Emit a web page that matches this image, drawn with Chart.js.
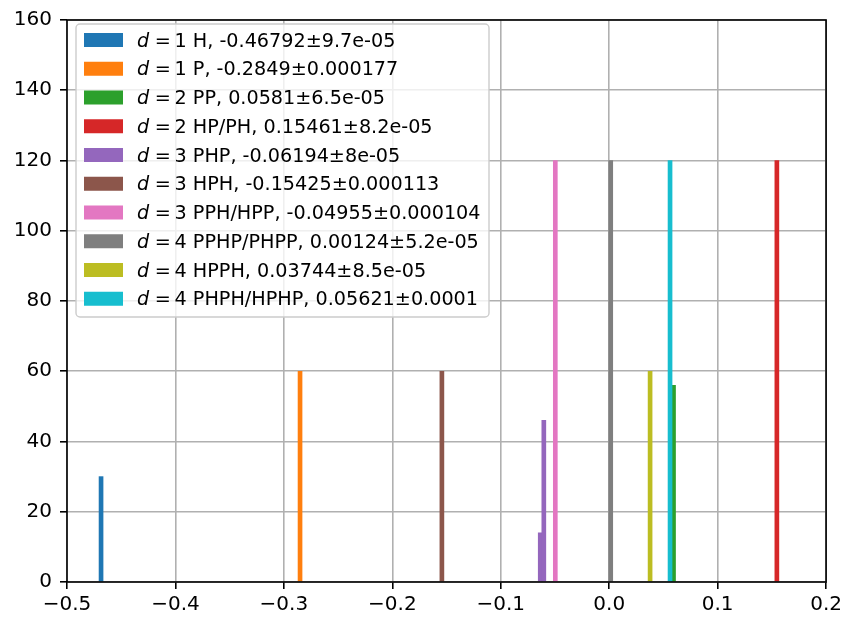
<!DOCTYPE html>
<html>
<head>
<meta charset="utf-8">
<script src="https://cdn.jsdelivr.net/npm/chart.js@4.4.1/dist/chart.umd.min.js"></script>
<style>
  body { margin: 0; background: #fff; }
</style>
</head>
<body>
<canvas id="hist" width="846" height="622"></canvas>
<script>
// data
const dims = [1, 1, 2, 2, 3, 3, 3, 4, 4, 4];
const names = ['H', 'P', 'PP', 'HP/PH', 'PHP', 'HPH', 'PPH/HPP', 'PPHP/PHPP', 'HPPH', 'PHPH/HPHP'];
const means = ['-0.46792', '-0.2849', '0.0581', '0.15461', '-0.06194', '-0.15425', '-0.04955', '0.00124', '0.03744', '0.05621'];
const errors = ['9.7e-05', '0.000177', '6.5e-05', '8.2e-05', '8e-05', '0.000113', '0.000104', '5.2e-05', '8.5e-05', '0.0001'];
const binCenters = [[-0.4686], [-0.2851], [0.0593], [0.1546], [-0.0636, -0.0603], [-0.1543], [-0.0497], [0.0014], [0.0377], [0.0561]];
const counts = [[30], [60], [56], [120], [14, 46], [60], [120], [120], [60], [120]];
const colors = ['#1f77b4', '#ff7f0e', '#2ca02c', '#d62728', '#9467bd', '#8c564b', '#e377c2', '#7f7f7f', '#bcbd22', '#17becf'];

const FONT = 'DejaVu Sans';

const datasets = names.map((n, i) => ({
    label: 'd = ' + dims[i] + ' ' + n + ', ' + means[i] + '±' + errors[i],
    data: binCenters[i].map((x, j) => ({ x: x, y: counts[i][j] })),
    backgroundColor: colors[i],
    borderWidth: 0,
    barThickness: 4,
    grouped: false,
    order: names.length - i   // later datasets on top, like matplotlib
}));

// frame + legend inside the axes
const boxLegend = {
    id: 'boxLegend',
    afterDraw(chart) {
        const ctx = chart.ctx;
        const a = chart.chartArea;
        ctx.save();
        ctx.strokeStyle = '#000';
        ctx.lineWidth = 1.6;
        ctx.strokeRect(a.left, a.top, a.right - a.left, a.bottom - a.top);

        const x0 = 76, y0 = 24, w = 413, h = 293;
        ctx.beginPath();
        ctx.roundRect(x0, y0, w, h, 4);
        ctx.fillStyle = 'rgba(255,255,255,0.8)';
        ctx.fill();
        ctx.strokeStyle = '#cccccc';
        ctx.lineWidth = 1.4;
        ctx.stroke();

        chart.data.datasets.forEach((ds, i) => {
            const top = 33 + i * 28.75;
            ctx.fillStyle = ds.backgroundColor;
            ctx.fillRect(84, top, 39, 14);
            const base = top + 13.5;
            ctx.fillStyle = '#000';
            ctx.textBaseline = 'alphabetic';
            ctx.textAlign = 'left';
            ctx.font = 'italic 19.2px "' + FONT + '"';
            ctx.fillText('d', 137, base);
            ctx.font = '19.2px "' + FONT + '"';
            ctx.fillText('=', 154.8, base);
            ctx.fillText(dims[i] + ' ' + names[i] + ', ' + means[i] + '±' + errors[i], 174.5, base);
        });
        ctx.restore();
    }
};

const fmtX = v => Math.abs(v) < 1e-9 ? '0.0' : v.toFixed(1).replace('-', '\u2212');

new Chart(document.getElementById('hist'), {
    type: 'bar',
    data: { datasets: datasets },
    options: {
        responsive: false,
        animation: false,
        layout: { padding: { top: 14, right: 17, left: 0, bottom: 0 } },
        plugins: {
            legend: { display: false },
            tooltip: { enabled: false }
        },
        scales: {
            x: {
                type: 'linear',
                min: -0.5,
                max: 0.2,
                offset: false,
                z: 1,
                afterFit: s => { s.height = 40; },
                grid: { offset: false, color: '#b0b0b0', lineWidth: 1.6, tickColor: '#000', tickLength: 7, tickWidth: 1.6 },
                border: { display: false },
                ticks: {
                    stepSize: 0.1,
                    autoSkip: false,
                    maxRotation: 0,
                    padding: 4,
                    color: '#000',
                    font: { family: FONT, size: 20 },
                    callback: fmtX
                }
            },
            y: {
                min: 0,
                max: 160,
                z: 1,
                afterFit: s => { s.width = 67; },
                grid: { color: '#b0b0b0', lineWidth: 1.6, tickColor: '#000', tickLength: 7, tickWidth: 1.6 },
                border: { display: false },
                ticks: {
                    stepSize: 20,
                    padding: 8,
                    color: '#000',
                    font: { family: FONT, size: 20 }
                }
            }
        }
    },
    plugins: [boxLegend]
});
</script>
</body>
</html>
